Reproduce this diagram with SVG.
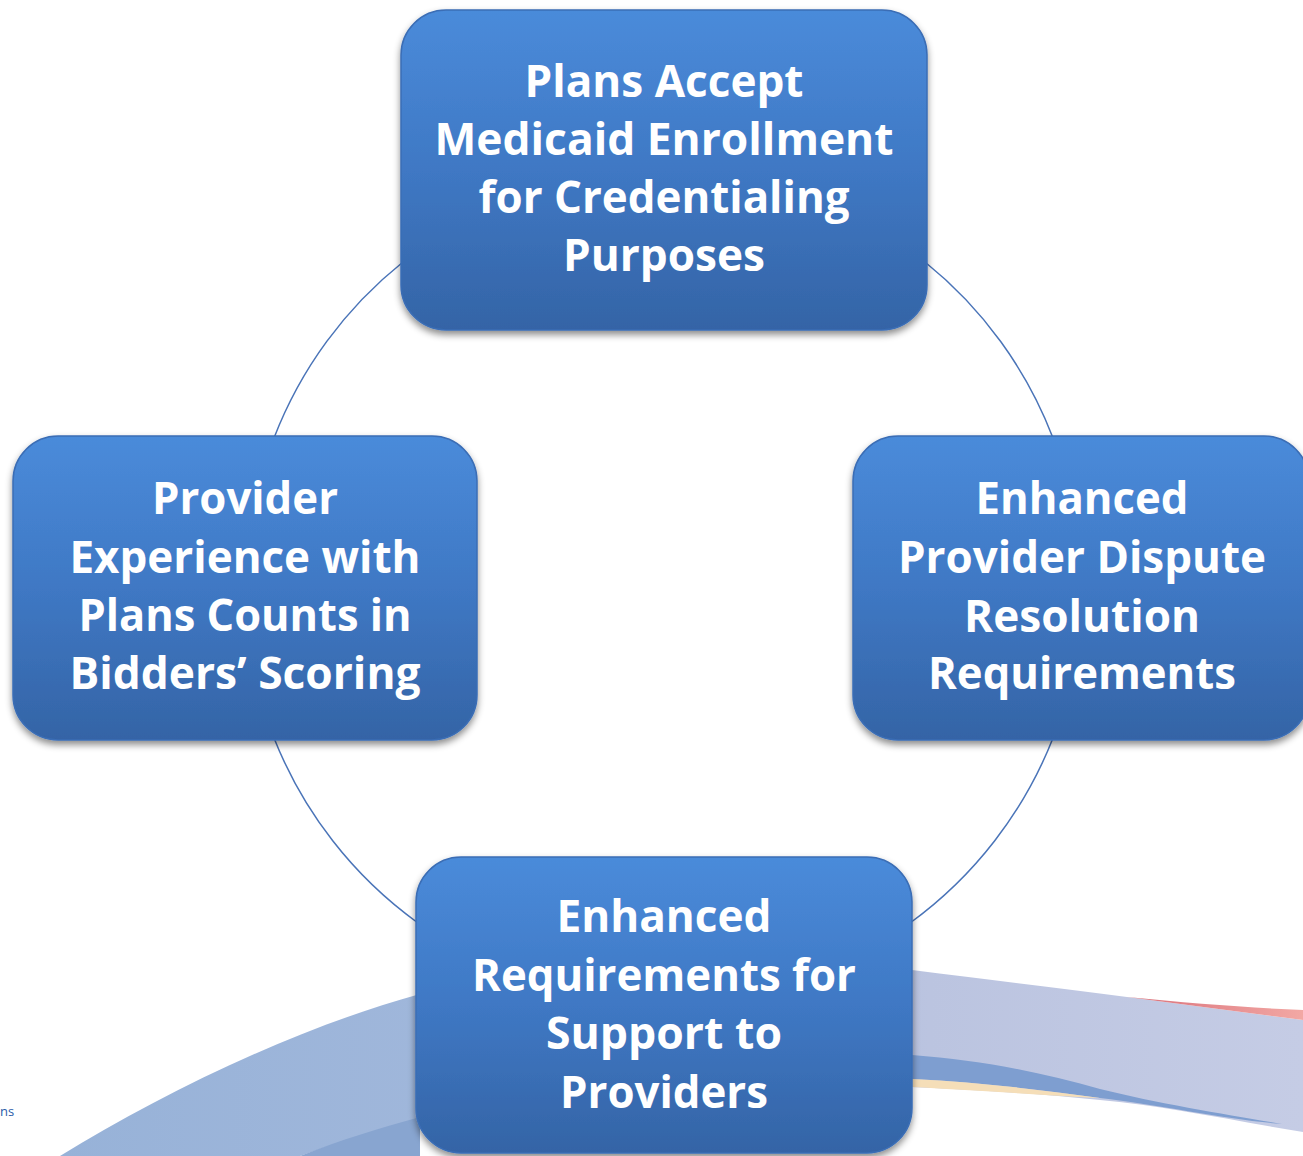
<svg xmlns="http://www.w3.org/2000/svg" width="1303" height="1156" viewBox="0 0 1303 1156">
  <defs>
    <linearGradient id="boxFill" x1="0" y1="0" x2="0" y2="1">
      <stop offset="0" stop-color="#4A8BDA"/>
      <stop offset="0.5" stop-color="#3F78C4"/>
      <stop offset="1" stop-color="#3464A6"/>
    </linearGradient>
    <linearGradient id="swoosh" x1="0" y1="0" x2="1" y2="0">
      <stop offset="0" stop-color="#97B2D8"/>
      <stop offset="0.45" stop-color="#A4B9DC"/>
      <stop offset="0.7" stop-color="#BBC4E0"/>
      <stop offset="1" stop-color="#C5CCE5"/>
    </linearGradient>
    <linearGradient id="red" x1="0" y1="0" x2="1" y2="0">
      <stop offset="0" stop-color="#D9707A"/>
      <stop offset="1" stop-color="#F2A8A4"/>
    </linearGradient>
    <filter id="shadow" x="-10%" y="-10%" width="120%" height="125%">
      <feDropShadow dx="0" dy="4" stdDeviation="3.5" flood-color="#000" flood-opacity="0.45"/>
    </filter>
    <style>
      .box { fill: url(#boxFill); stroke: #3A6DB5; stroke-width: 1.5; filter: url(#shadow); }
      .lbl { font-family: "Open Sans", Lato, "Liberation Sans", sans-serif; font-weight: bold; font-size: 44px; fill: #FFFFFF; text-anchor: middle; }
      .conn { fill: none; stroke: #4A74B8; stroke-width: 1.5; }
    </style>
  </defs>

  <rect width="1303" height="1156" fill="#FFFFFF"/>

  <g id="background">
    <path d="M 60 1156 C 160 1095 290 1030 420 994 L 912 970 C 990 980 1060 988 1127 997 L 1303 1020 L 1303 1132 C 1230 1120 1160 1105 1100 1100 C 1040 1094 980 1090 912 1087 L 420 1118 C 380 1130 330 1145 300 1156 Z" fill="url(#swoosh)"/>
    <path d="M 300 1156 C 340 1140 380 1128 420 1117 L 420 1156 Z" fill="#88A5D0"/>
    <path d="M 1127 997 C 1190 1003 1250 1008 1303 1010 L 1303 1020 Z" fill="url(#red)"/>
    <path d="M 912 1055 C 980 1060 1040 1072 1100 1089 C 1160 1104 1230 1115 1282 1124 C 1230 1120 1160 1105 1100 1098 C 1040 1090 980 1082 912 1079 Z" fill="#7E9ED0"/>
    <path d="M 912 1079 C 980 1082 1040 1090 1100 1098 C 1060 1096 1000 1092 912 1087 Z" fill="#F5DEB8"/>
    <text x="0" y="1116" font-family="'Open Sans', Lato, 'Liberation Sans', sans-serif" font-size="13" fill="#2A5CA8">ns</text>
  </g>

  <g id="connectors">
    <path class="conn" d="M 925 262 A 417 417 0 0 1 1053 438"/>
    <path class="conn" d="M 1053 738 A 417 417 0 0 1 910 923"/>
    <path class="conn" d="M 418 923 A 417 417 0 0 1 274 738"/>
    <path class="conn" d="M 274 438 A 417 417 0 0 1 403 262"/>
  </g>

  <g id="node-top">
    <rect class="box" x="401" y="10" width="526" height="320" rx="45" ry="45"/>
    <text class="lbl" x="664" y="97" textLength="279" lengthAdjust="spacingAndGlyphs">Plans Accept</text>
    <text class="lbl" x="664" y="155" textLength="459" lengthAdjust="spacingAndGlyphs">Medicaid Enrollment</text>
    <text class="lbl" x="664" y="213" textLength="371" lengthAdjust="spacingAndGlyphs">for Credentialing</text>
    <text class="lbl" x="664" y="271" textLength="202" lengthAdjust="spacingAndGlyphs">Purposes</text>
  </g>

  <g id="node-right">
    <rect class="box" x="853" y="436" width="456" height="304" rx="45" ry="45"/>
    <text class="lbl" x="1082" y="514" textLength="213" lengthAdjust="spacingAndGlyphs">Enhanced</text>
    <text class="lbl" x="1082" y="573" textLength="368" lengthAdjust="spacingAndGlyphs">Provider Dispute</text>
    <text class="lbl" x="1082" y="632" textLength="236" lengthAdjust="spacingAndGlyphs">Resolution</text>
    <text class="lbl" x="1082" y="689" textLength="308" lengthAdjust="spacingAndGlyphs">Requirements</text>
  </g>

  <g id="node-left">
    <rect class="box" x="13" y="436" width="464" height="304" rx="45" ry="45"/>
    <text class="lbl" x="245" y="514" textLength="186" lengthAdjust="spacingAndGlyphs">Provider</text>
    <text class="lbl" x="245" y="573" textLength="351" lengthAdjust="spacingAndGlyphs">Experience with</text>
    <text class="lbl" x="245" y="631" textLength="333" lengthAdjust="spacingAndGlyphs">Plans Counts in</text>
    <text class="lbl" x="245" y="689" textLength="351" lengthAdjust="spacingAndGlyphs">Bidders’ Scoring</text>
  </g>

  <g id="node-bottom">
    <rect class="box" x="416" y="857" width="496" height="296" rx="45" ry="45"/>
    <text class="lbl" x="664" y="932" textLength="215" lengthAdjust="spacingAndGlyphs">Enhanced</text>
    <text class="lbl" x="664" y="991" textLength="384" lengthAdjust="spacingAndGlyphs">Requirements for</text>
    <text class="lbl" x="664" y="1049" textLength="236" lengthAdjust="spacingAndGlyphs">Support to</text>
    <text class="lbl" x="664" y="1108" textLength="208" lengthAdjust="spacingAndGlyphs">Providers</text>
  </g>
</svg>
